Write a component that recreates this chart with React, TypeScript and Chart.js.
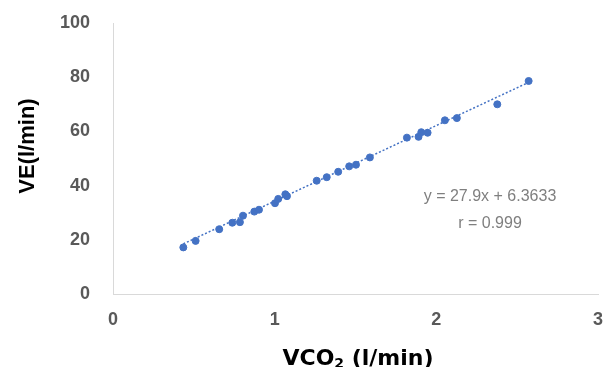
import React, { useEffect, useRef } from "react";
import { Chart, registerables } from "chart.js";

Chart.register(...registerables);

const vco2 = [0.435, 0.511, 0.657, 0.738, 0.785, 0.804, 0.874, 0.903, 1.002, 1.022, 1.066, 1.076, 1.26, 1.322, 1.393, 1.461, 1.503, 1.589, 1.818, 1.89, 1.907, 1.946, 2.053, 2.127, 2.377, 2.571];
const ve = [17.2, 19.6, 23.9, 26.3, 26.5, 28.9, 30.4, 31.1, 33.5, 35.1, 36.8, 36.1, 41.8, 43.1, 45.1, 47.1, 47.7, 50.4, 57.7, 58.0, 59.7, 59.5, 64.1, 64.9, 70.0, 78.6];
const slope = 27.9;
const intercept = 6.3633;
const equationText = "y = 27.9x + 6.3633";
const rText = "r = 0.999";
const xTicks = [0, 1, 2, 3];
const yTicks = [0, 20, 40, 60, 80, 100];

const FONT = "'Liberation Sans', Arial, sans-serif";
const XT_FONT = "'DejaVu Sans', sans-serif";

function zeroPad(s: any) {
  s.paddingLeft = 0;
  s.paddingRight = 0;
  s.paddingTop = 0;
  s.paddingBottom = 0;
}

export default function App() {
  const ref = useRef<HTMLCanvasElement>(null);
  useEffect(() => {
    document.body.style.margin = "0";
    const xMin = Math.min(...vco2);
    const xMax = Math.max(...vco2);
    const trend = [
      { x: xMin, y: slope * xMin + intercept },
      { x: xMax, y: slope * xMax + intercept },
    ];
    const textPlugin = {
      id: "texts",
      afterDraw(chart: any) {
        const ctx = chart.ctx;
        ctx.save();
        ctx.fillStyle = "#7f7f7f";
        ctx.font = `16px ${FONT}`;
        ctx.textAlign = "center";
        ctx.textBaseline = "middle";
        ctx.fillText(equationText, 490, 197);
        ctx.fillText(rText, 490, 224);
        ctx.fillStyle = "#000";
        ctx.font = `bold 22px ${FONT}`;
        ctx.translate(28, 146);
        ctx.rotate(-Math.PI / 2);
        ctx.fillText("VE(l/min)", 0, 0);
        ctx.restore();
        ctx.save();
        ctx.fillStyle = "#000";
        ctx.textBaseline = "alphabetic";
        ctx.textAlign = "left";
        const big = `bold 22px ${XT_FONT}`;
        const small = `bold 14px ${XT_FONT}`;
        ctx.font = big;
        const a = "VCO";
        const c = " (l/min)";
        const wa = ctx.measureText(a).width;
        const wc = ctx.measureText(c).width;
        ctx.font = small;
        const wb = ctx.measureText("2").width;
        const total = wa + wb + wc;
        let x = 358 - total / 2;
        const base = 365;
        ctx.font = big;
        ctx.fillText(a, x, base);
        x += wa;
        ctx.font = small;
        ctx.fillText("2", x, base + 3);
        x += wb;
        ctx.font = big;
        ctx.fillText(c, x, base);
        ctx.restore();
      },
    };
    const chart = new Chart(ref.current!, {
      type: "scatter",
      data: {
        datasets: [
          {
            type: "line",
            data: trend,
            borderColor: "#4472C4",
            borderWidth: 1.5,
            borderDash: [2, 2],
            pointRadius: 0,
            fill: false,
          } as any,
          {
            data: vco2.map((v, i) => ({ x: v, y: ve[i] })),
            backgroundColor: "#4472C4",
            borderColor: "#4472C4",
            pointRadius: 3.5,
            pointHoverRadius: 3.5,
          },
        ],
      },
      options: {
        animation: false,
        responsive: false,
        events: [],
        layout: { padding: { left: 0, right: 6, top: 23, bottom: 0 } },
        plugins: { legend: { display: false }, tooltip: { enabled: false } },
        scales: {
          x: {
            type: "linear",
            min: 0,
            max: 3,
            afterBuildTicks: (s: any) => {
              s.ticks = xTicks.map((v) => ({ value: v }));
            },
            afterFit: (s: any) => {
              s.height = 73;
              zeroPad(s);
            },
            grid: { display: false, drawTicks: false },
            border: { display: true, color: "#d9d9d9", width: 1 },
            ticks: {
              padding: 15,
              color: "#595959",
              font: { family: FONT, size: 18, weight: "bold" },
            },
          },
          y: {
            type: "linear",
            min: 0,
            max: 100,
            afterBuildTicks: (s: any) => {
              s.ticks = yTicks.map((v) => ({ value: v }));
            },
            afterFit: (s: any) => {
              s.width = 113;
              zeroPad(s);
            },
            grid: { display: false, drawTicks: false },
            border: { display: true, color: "#d9d9d9", width: 1 },
            ticks: {
              padding: 23,
              color: "#595959",
              font: { family: FONT, size: 18, weight: "bold" },
            },
          },
        },
      },
      plugins: [textPlugin],
    });
    return () => chart.destroy();
  }, []);
  return (
    <div style={{ width: 604, height: 367, background: "#fff" }}>
      <canvas ref={ref} width={604} height={367} style={{ display: "block" }} />
    </div>
  );
}
